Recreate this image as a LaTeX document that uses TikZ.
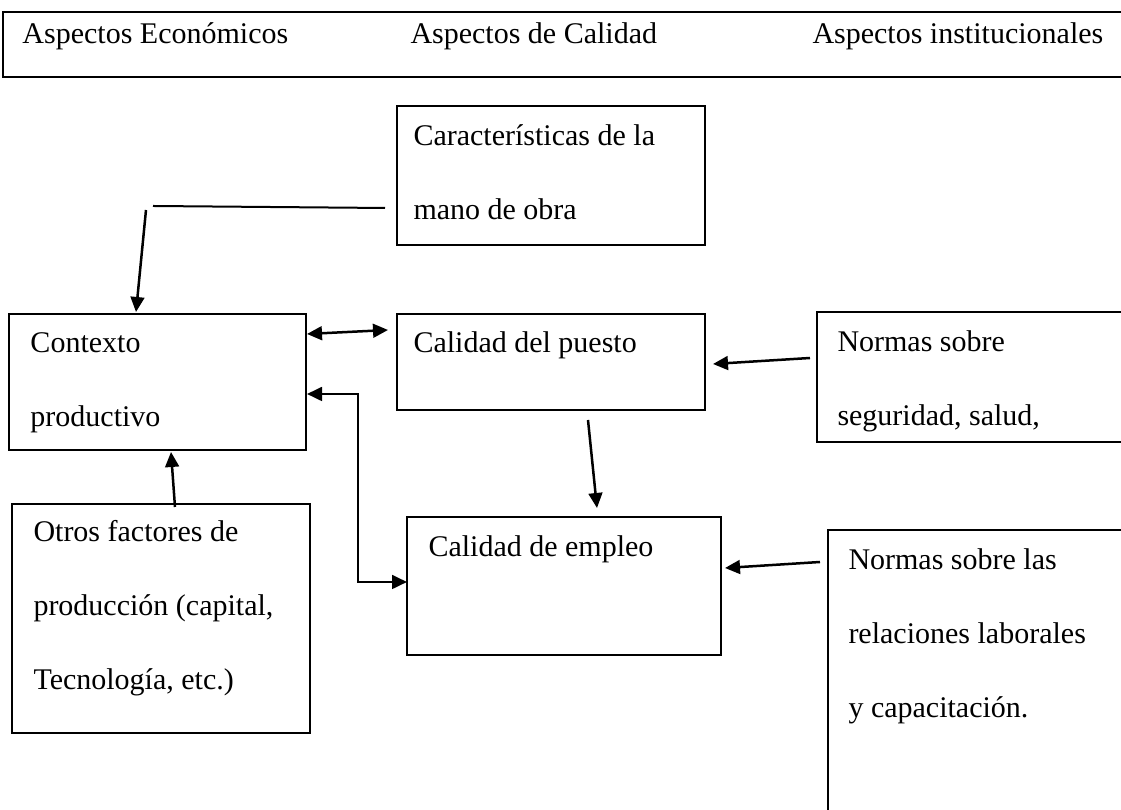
\documentclass[tikz,border=0pt]{standalone}
\usepackage{fontspec}
\setmainfont{Liberation Serif}
\usetikzlibrary{arrows.meta}
\begin{document}
\begin{tikzpicture}[x=0.4pt, y=-0.4pt,
    caja/.style={draw, line width=0.8pt, anchor=north west, inner sep=0pt, outer sep=0pt},
    tam/.style 2 args={minimum width=#1*0.4pt, minimum height=#2*0.4pt},
    texto/.style={anchor=base west, align=left, inner sep=0pt, font=\fontsize{12}{29.6}\selectfont},
    punta/.tip={Triangle[length=6pt, width=5.5pt]},
    flecha/.style={line width=1pt, -punta},
    flechas/.style={line width=1pt, punta-punta}]
    \useasboundingbox (0,0) rectangle (1121,810);
    % cajas
    \node[caja, tam={1140}{65}] (aspectos) at (3,12) {};
    \node[caja, tam={308}{139}] (carac) at (397,106) {};
    \node[caja, tam={297}{136}] (ctx) at (9,314) {};
    \node[caja, tam={308}{96}] (puesto) at (397,314) {};
    \node[caja, tam={320}{130}] (segur) at (817,312) {};
    \node[caja, tam={298}{229}] (otros) at (12,504) {};
    \node[caja, tam={314}{138}] (empleo) at (407,517) {};
    \node[caja, tam={310}{300}] (relac) at (828,530) {};
    % textos (base = ultima linea, 74 por linea)
    \node[texto] (asp1) at ([shift={(19,32)}]aspectos.north west) {Aspectos Económicos};
    \node[texto] (asp2) at ([shift={(407,32)}]aspectos.north west) {Aspectos de Calidad};
    \node[texto] (asp3) at ([shift={(809,32)}]aspectos.north west) {Aspectos institucionales};
    \node[texto] (carac-t) at ([shift={(16,114)}]carac.north west) {Características de la\\mano de obra};
    \node[texto] (ctx-t) at ([shift={(21,113)}]ctx.north west) {Contexto\\productivo};
    \node[texto] (puesto-t) at ([shift={(16,39)}]puesto.north west) {Calidad del puesto};
    \node[texto] (segur-t) at ([shift={(20,114)}]segur.north west) {Normas sobre\\seguridad, salud,};
    \node[texto] (otros-t) at ([shift={(21,186)}]otros.north west) {Otros factores de\\producción (capital,\\Tecnología, etc.)};
    \node[texto] (empleo-t) at ([shift={(21,40)}]empleo.north west) {Calidad de empleo};
    \node[texto] (relac-t) at ([shift={(20,188)}]relac.north west) {Normas sobre las\\relaciones laborales\\y capacitación.};
    % conectores
    \coordinate (codo) at (153,206); \coordinate (baja) at (146,210); \coordinate (esq) at (358,582);
    \draw[line width=0.8pt] ([shift={(-12,102)}]carac.north west) -- (codo);
    \draw[flecha] (baja) -- ([shift={(127,-2)}]ctx.north west);
    \draw[flechas] ([shift={(1,20)}]ctx.north east) -- ([shift={(-9,16)}]puesto.north west);
    \draw[flechas] ([shift={(1,80)}]ctx.north east) -| (esq) -- ([shift={(0,65)}]empleo.north west);
    \draw[flecha] ([shift={(-7,46)}]segur.north west) -- ([shift={(8,50)}]puesto.north east);
    \draw[flecha] ([shift={(191,10)}]puesto.south west) -- ([shift={(190,-9)}]empleo.north west);
    \draw[flecha] ([shift={(-8,32)}]relac.north west) -- ([shift={(4,51)}]empleo.north east);
    \draw[flecha] ([shift={(163,3)}]otros.north west) -- ([shift={(162,2)}]ctx.south west);
\end{tikzpicture}
\end{document}
